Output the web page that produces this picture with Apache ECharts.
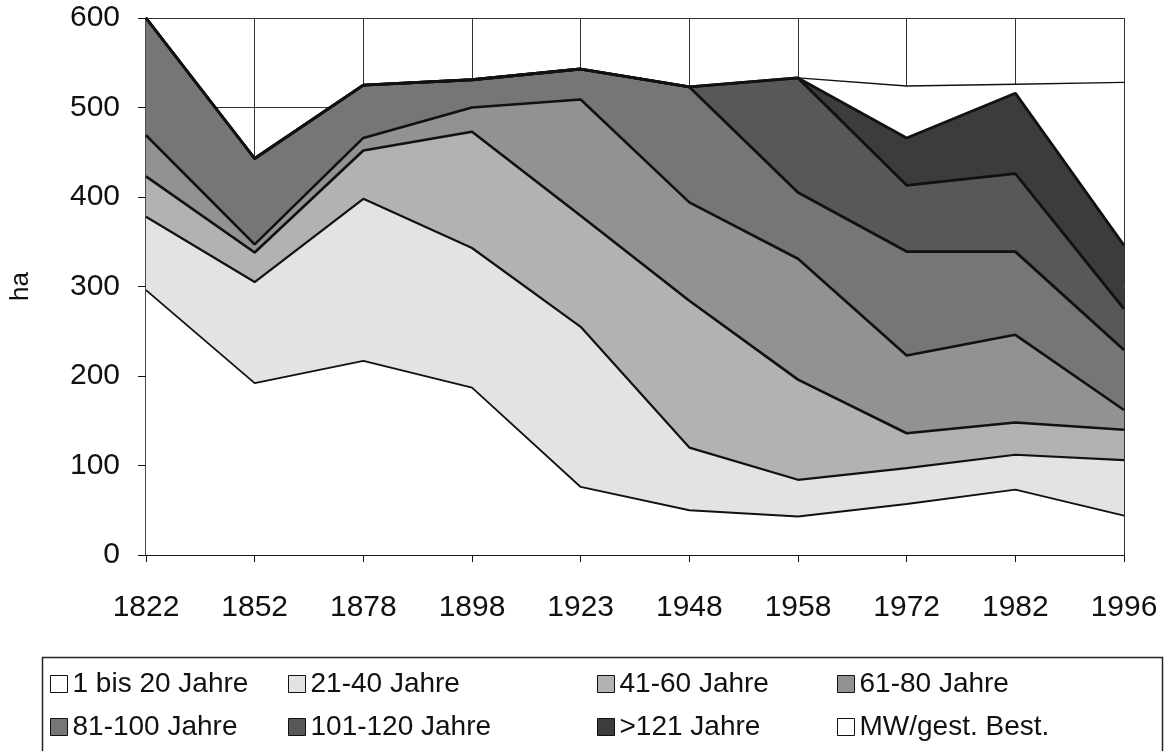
<!DOCTYPE html>
<html>
<head>
<meta charset="utf-8">
<title>Altersklassen</title>
<script src="https://cdn.jsdelivr.net/npm/echarts@6.0.0/dist/echarts.min.js"></script>
<style>
  html, body { margin: 0; padding: 0; background: #fff; }
  #chart { width: 1168px; height: 751px; }
</style>
</head>
<body>
<div id="chart"></div>
<script>
// categories
const years = ["1822", "1852", "1878", "1898", "1923", "1948", "1958", "1972", "1982", "1996"];

// area per age class in ha
const j1_20 = [296, 192, 217, 187, 76, 50, 43, 57, 73, 44];
const j21_40 = [82, 113, 181, 156, 179, 70, 41, 40, 39, 62];
const j41_60 = [45, 33, 54, 130, 124, 164, 112, 39, 36, 34];
const j61_80 = [46, 9, 14, 27, 130, 110, 135, 87, 98, 22];
const j81_100 = [131, 96, 59, 31, 34, 129, 74, 116, 93, 67];
const j101_120 = [0, 0, 0, 0, 0, 0, 128, 74, 87, 46];
const j121 = [0, 0, 0, 0, 0, 0, 0, 53, 90, 71];
const mwBest = [0, 0, 0, 0, 0, 0, 0, 58, 10, 182];

const yTicks = [0, 100, 200, 300, 400, 500, 600];

const font = "'Liberation Sans', Arial, sans-serif";

const chart = echarts.init(document.getElementById("chart"));

function layer(name, data, fill, width, z) {
  return {
    name: name,
    type: "line",
    stack: "total",
    data: data,
    color: fill,
    showSymbol: false,
    symbol: "none",
    z: z || 2,
    lineStyle: { color: "#111", width: width },
    areaStyle: { color: fill, opacity: 1 },
    emphasis: { disabled: true },
  };
}

const legendBase = {
  orient: "vertical",
  top: 669,
  height: 82,
  padding: 0,
  itemWidth: 17,
  itemHeight: 17,
  itemGap: 13,
  icon: "rect",
  itemStyle: { borderColor: "#111", borderWidth: 1 },
  textStyle: { fontFamily: font, fontSize: 28, color: "#111", lineHeight: 30 },
};

const option = {
  animation: false,
  backgroundColor: "#fff",
  grid: { left: 135, right: 44, top: 18, bottom: 196 },
  graphic: [
    {
      type: "rect",
      left: 40,
      top: 655,
      shape: { width: 1120, height: 120 },
      style: { fill: "none", stroke: "#222", lineWidth: 1.5 },
    },
  ],
  legend: [
    Object.assign({}, legendBase, { left: 50, data: ["1 bis 20 Jahre", "81-100 Jahre"] }),
    Object.assign({}, legendBase, { left: 288, data: ["21-40 Jahre", "101-120 Jahre"] }),
    Object.assign({}, legendBase, { left: 597, data: ["41-60 Jahre", ">121 Jahre"] }),
    Object.assign({}, legendBase, { left: 837, data: ["61-80 Jahre", "MW/gest. Best."] }),
  ],
  xAxis: {
    type: "category",
    data: years,
    boundaryGap: false,
    axisLine: { lineStyle: { color: "#111", width: 1.5 } },
    axisTick: { show: true, length: 7, lineStyle: { color: "#111" } },
    axisLabel: { fontFamily: font, fontSize: 30, color: "#111", margin: 38 },
    splitLine: { show: true, lineStyle: { color: "#333", width: 1 } },
  },
  yAxis: {
    type: "value",
    min: yTicks[0],
    max: yTicks[yTicks.length - 1],
    interval: 100,
    name: "ha",
    nameLocation: "middle",
    nameGap: 112,
    nameRotate: 90,
    nameTextStyle: { fontFamily: font, fontSize: 26, color: "#111" },
    axisLine: { show: true, lineStyle: { color: "#111", width: 1.5 } },
    axisTick: { show: true, length: 8, lineStyle: { color: "#111" } },
    axisLabel: { fontFamily: font, fontSize: 30, color: "#111", margin: 26 },
    splitLine: { show: true, lineStyle: { color: "#333", width: 1 } },
  },
  series: [
    layer("1 bis 20 Jahre", j1_20, "#ffffff", 1.8),
    layer("21-40 Jahre", j21_40, "#e3e3e3", 2.2),
    layer("41-60 Jahre", j41_60, "#b2b2b2", 2.6),
    layer("61-80 Jahre", j61_80, "#929292", 2.6),
    layer("81-100 Jahre", j81_100, "#767676", 2.8),
    layer("101-120 Jahre", j101_120, "#585858", 2.8),
    layer(">121 Jahre", j121, "#3c3c3c", 2.8),
    layer("MW/gest. Best.", mwBest, "#ffffff", 1.3, 1),
  ],
};

chart.setOption(option);
</script>
</body>
</html>
